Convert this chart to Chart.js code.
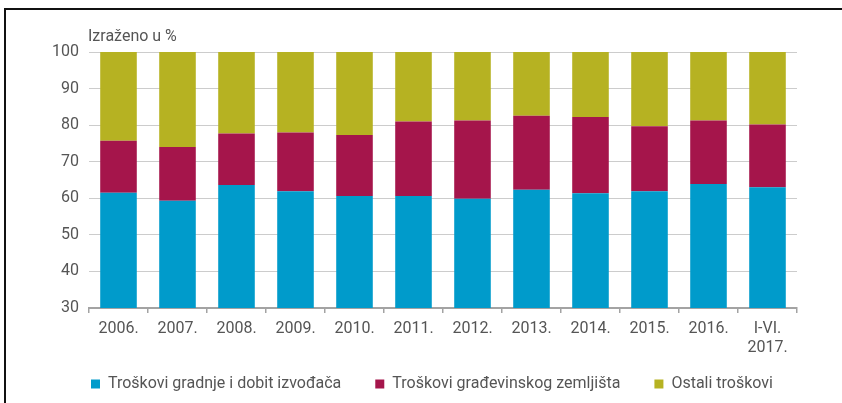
<!DOCTYPE html>
<html>
<head>
<meta charset="utf-8">
<script src="https://cdn.jsdelivr.net/npm/chart.js@4.4.0/dist/chart.umd.min.js"></script>
<style>
    body { margin: 0; background: #fff; }
    #okvir { position: relative; width: 842px; height: 403px; }
    #rub {
        position: absolute; left: 4px; top: 8px; right: 0; bottom: 0;
        border-left: 2px solid #111; border-top: 2px solid #111;
        pointer-events: none;
    }
</style>
</head>
<body>
<div id="okvir">
    <canvas id="grafikon" width="842" height="403"></canvas>
    <div id="rub"></div>
</div>
<script>
// Kategorije (godine)
const godine = ["2006.", "2007.", "2008.", "2009.", "2010.", "2011.", "2012.",
    "2013.", "2014.", "2015.", "2016.", ["I-VI.", "2017."]];

// Udjeli u %, očitano s grafikona
const gradnja = [61.5, 59.3, 63.6, 61.9, 60.6, 60.6, 59.9, 62.3, 61.4, 61.9, 63.9, 63.0];
const zemljiste = [14.2, 14.7, 14.1, 16.1, 16.7, 20.4, 21.4, 20.3, 20.8, 17.8, 17.4, 17.2];
const ostali = [24.3, 26.0, 22.3, 22.0, 22.7, 19.0, 18.7, 17.4, 17.8, 20.3, 18.7, 19.8];

const nazivi = ["Troškovi gradnje i dobit izvođača", "Troškovi građevinskog zemljišta", "Ostali troškovi"];
const naslovY = "Izraženo u %";

const sivaTekst = "#555555";
Chart.defaults.font.family = "Roboto";
Chart.defaults.font.size = 16;
Chart.defaults.color = sivaTekst;

// naslov iznad osi y, poravnat s lijevim rubom područja grafikona
const naslovPlugin = {
    id: "naslovY",
    beforeDraw(chart) {
        // drugi red oznake "I-VI. 2017." ne smije biti odrezan
        chart.scales.x._computeLabelArea = () => undefined;
    },
    afterDraw(chart) {
        const ctx = chart.ctx;
        ctx.save();
        ctx.font = "16px Roboto";
        ctx.fillStyle = sivaTekst;
        ctx.textBaseline = "middle";
        ctx.fillText(naslovY, chart.chartArea.left - 1, 37);
        ctx.restore();
    },
};

// fiksna visina legende i pomak udesno
const legendaPlugin = {
    id: "legendaVisina",
    beforeInit(chart) {
        const fit = chart.legend.fit;
        chart.legend.fit = function () {
            fit.call(this);
            this.height = 61;
        };
    },
    beforeDraw(chart) {
        chart.legend.left = 11;
        chart.legend.right = 853;
    },
};

const ctx = document.getElementById("grafikon").getContext("2d");
new Chart(ctx, {
    type: "bar",
    data: {
        labels: godine,
        datasets: [
            { label: nazivi[0], data: gradnja, backgroundColor: "#009bcb" },
            { label: nazivi[1], data: zemljiste, backgroundColor: "#a5154b" },
            { label: nazivi[2], data: ostali, backgroundColor: "#b6b222" },
        ],
    },
    options: {
        responsive: false,
        animation: false,
        layout: { padding: { top: 52, right: 45, left: 0, bottom: 0 } },
        datasets: {
            bar: { categoryPercentage: 1, barPercentage: 0.62 },
        },
        scales: {
            x: {
                stacked: true,
                grid: { drawOnChartArea: false, tickLength: 5, color: "#a3a3a3", lineWidth: 1.5 },
                border: { color: "#a3a3a3", width: 2 },
                ticks: { padding: 6, maxRotation: 0, autoSkip: false },
                afterFit(scale) { scale.height = 34; },
            },
            y: {
                stacked: true,
                min: 30,
                max: 100,
                ticks: { stepSize: 10, padding: 10 },
                grid: { drawTicks: false, color: "#cccccc", lineWidth: 1 },
                border: { display: false },
                afterFit(scale) { scale.width = 89; },
            },
        },
        plugins: {
            legend: {
                position: "bottom",
                labels: { boxWidth: 9, boxHeight: 9, padding: 34, color: sivaTekst },
            },
            tooltip: { enabled: false },
        },
    },
    plugins: [naslovPlugin, legendaPlugin],
});
</script>
</body>
</html>
